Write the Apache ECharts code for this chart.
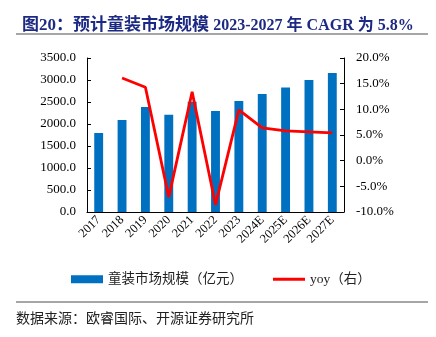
<!DOCTYPE html>
<html><head><meta charset="utf-8">
<script src="https://cdn.jsdelivr.net/npm/echarts@6/dist/echarts.min.js"></script>
<style>html,body{margin:0;padding:0;background:#fff}#c{width:436px;height:337px}</style>
</head><body><div id="c"></div>
<script>
const categories = ['2017','2018','2019','2020','2021','2022','2023','2024E','2025E','2026E','2027E'];
const marketSize = [1795, 2091, 2386, 2211, 2507, 2295, 2523, 2682, 2832, 3000, 3159];
const yoy = [null, 16.1, 14.3, -7.1, 13.4, -8.6, 9.9, 6.4, 5.8, 5.6, 5.4];
const leftTicks = [0, 500, 1000, 1500, 2000, 2500, 3000, 3500];
const rightTicks = [-10, -5, 0, 5, 10, 15, 20];

const serif = '"Liberation Serif","Times New Roman",serif';
const cjk = '"Liberation Serif","Noto Sans CJK SC",serif';
const chart = echarts.init(document.getElementById('c'));
chart.setOption({
  animation: false,
  title: {
    text: '{a|图20：预计童装市场规模 }{b|2023-2027 年 CAGR 为 5.8%}',
    left: 17, top: 12,
    textStyle: {
      rich: {
        a: {fontFamily: cjk, fontSize: 17, fontWeight: 'bold', color: '#1c2a84'},
        b: {fontFamily: cjk, fontSize: 16, fontWeight: 'bold', color: '#1c2a84'}
      }
    }
  },
  graphic: [
    {type: 'line', shape: {x1: 16, y1: 34, x2: 428, y2: 34}, style: {stroke: '#888', lineWidth: 1.5}},
    {type: 'line', shape: {x1: 16, y1: 302, x2: 428, y2: 302}, style: {stroke: '#888', lineWidth: 1.5}},
    {type: 'text', left: 16, top: 311, style: {text: '数据来源：欧睿国际、开源证券研究所', font: '14px "Noto Sans CJK SC"', fill: '#222'}}
  ],
  legend: {
    bottom: 46, left: 66,
    itemGap: 30,
    itemWidth: 32, itemHeight: 8,
    textStyle: {fontFamily: cjk, fontSize: 13.5, color: '#222'},
    data: [
      {name: '童装市场规模（亿元）', icon: 'rect'},
      {name: 'yoy（右）', icon: 'path://M0,0 L32,0 L32,3 L0,3 Z'}
    ]
  },
  grid: {left: 87, right: 92, top: 58, bottom: 125},
  xAxis: {
    type: 'category', data: categories,
    axisLine: {lineStyle: {color: '#000'}},
    axisTick: {inside: true, length: 4, lineStyle: {color: '#000'}},
    axisLabel: {rotate: 45, fontFamily: serif, fontSize: 12.5, color: '#000', margin: 6, interval: 0}
  },
  yAxis: [
    {type: 'value', min: 0, max: 3500, interval: 500,
      axisLine: {show: true, lineStyle: {color: '#000'}},
      axisTick: {show: true, inside: true, length: 4, lineStyle: {color: '#000'}},
      splitLine: {show: false},
      axisLabel: {fontFamily: serif, fontSize: 13, color: '#000', margin: 11, formatter: v => v.toFixed(1)}
    },
    {type: 'value', min: -10, max: 20, interval: 5,
      axisLine: {show: true, lineStyle: {color: '#000'}},
      axisTick: {show: true, inside: true, length: 4, lineStyle: {color: '#000'}},
      splitLine: {show: false},
      axisLabel: {fontFamily: serif, fontSize: 13, color: '#000', margin: 12, formatter: v => v.toFixed(1) + '%'}
    }
  ],
  series: [
    {name: '童装市场规模（亿元）', type: 'bar', data: marketSize, barWidth: '38%',
      itemStyle: {color: '#0070c0'}},
    {name: 'yoy（右）', type: 'line', yAxisIndex: 1, data: yoy, symbol: 'none',
      lineStyle: {color: '#ff0000', width: 2.8}, itemStyle: {color: '#ff0000'}}
  ]
});
</script></body></html>
